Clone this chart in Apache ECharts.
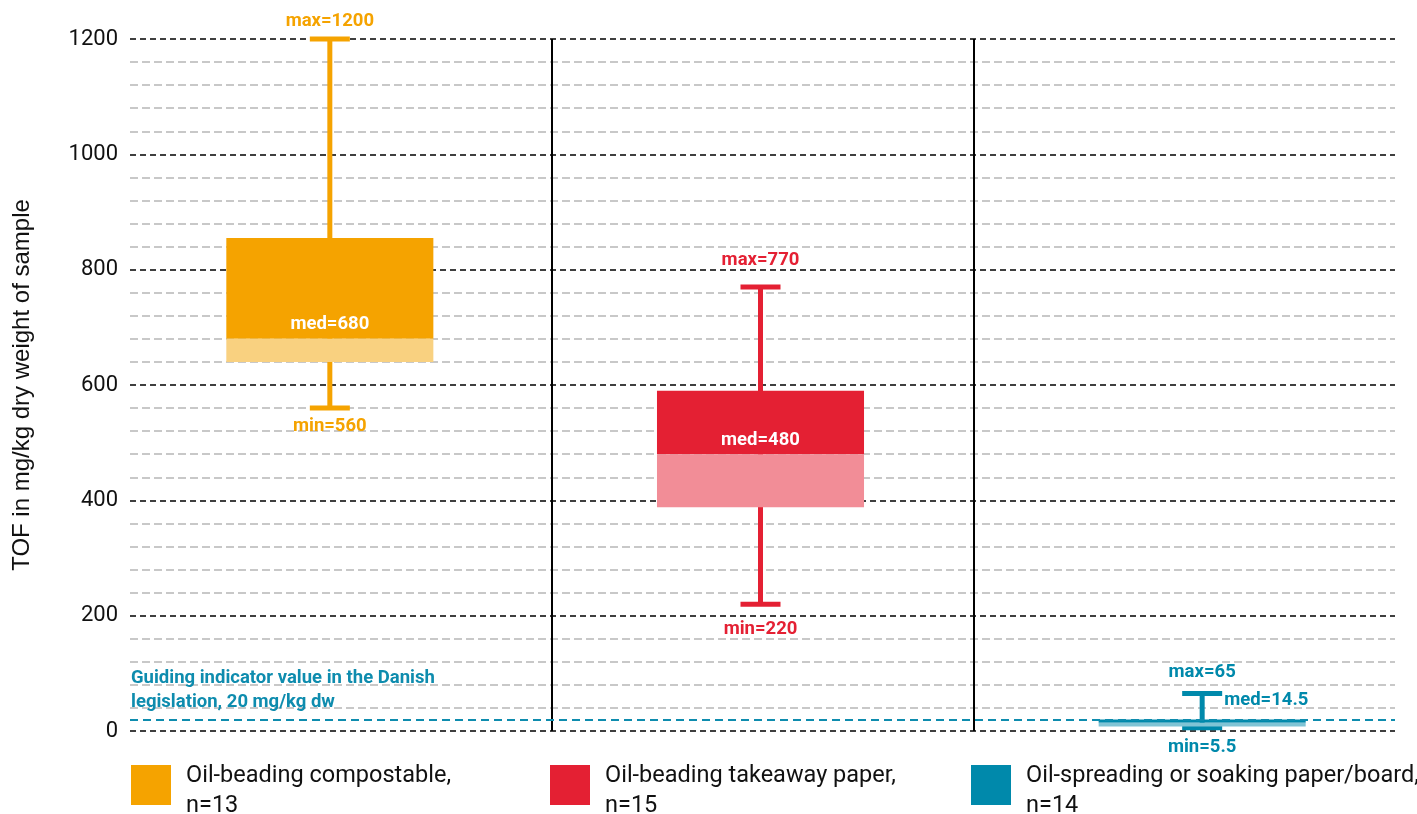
<!DOCTYPE html>
<html><head><meta charset="utf-8">
<script src="https://cdn.jsdelivr.net/npm/echarts@6/dist/echarts.min.js"></script>
<style>html,body{margin:0;padding:0;background:#fff}#c{width:1417px;height:814px}</style>
</head><body><div id="c"></div>
<script>
// ---- data ----
const categories = ['Oil-beading compostable', 'Oil-beading takeaway paper', 'Oil-spreading or soaking paper/board'];
const seriesNames = ['Oil-beading compostable,\nn=13', 'Oil-beading takeaway paper,\nn=15', 'Oil-spreading or soaking paper/board,\nn=14'];
const minValues = [560, 220, 5.5];
const q1Values = [640, 388, 8];
const medianValues = [680, 480, 14.5];
const q3Values = [855, 590, 20];
const maxValues = [1200, 770, 65];
const guideValue = 20;
const guideLabel = 'Guiding indicator value in the Danish\nlegislation, 20 mg/kg dw';
const yAxisName = 'TOF in mg/kg dry weight of sample';

// ---- styles ----
const darkColors = ['#F5A300', '#E42033', '#0089AB'];
const lightColors = ['#F9D180', '#F28D97', '#80C4D5'];
const medLabelInside = [true, true, false];
const boxNudgePx = [-11, -2, 18];
const maxLabelGapPx = [18, 27, 21];
const minLabelGapPx = [18, 25, 20];
const legendLefts = [131, 550, 971];
const teal = '#0E8CAE';
const FONT = 'Roboto, "Noto Sans", sans-serif';
const LBL_FONT = 'bold 18.5px ' + FONT;

function makeRender(i) {
  return function (params, api) {
    const xi = api.value(0);
    const pMin = api.coord([xi, api.value(1)]);
    const pQ1 = api.coord([xi, api.value(2)]);
    const pMed = api.coord([xi, api.value(3)]);
    const pQ3 = api.coord([xi, api.value(4)]);
    const pMax = api.coord([xi, api.value(5)]);
    const band = api.size([1, 0])[0];
    const bw = band * 0.491;
    const cx = pMed[0] + boxNudgePx[i];
    const cap = 20;
    const dark = darkColors[i], light = lightColors[i];
    const lbl = (text, x, y, color, align) => ({
      type: 'text', z2: 10,
      style: { text, x, y, fill: color, font: LBL_FONT, align: align || 'center', verticalAlign: 'middle' }
    });
    const children = [
      { type: 'line', shape: { x1: cx, y1: pMin[1], x2: cx, y2: pMax[1] }, style: { stroke: dark, lineWidth: 5 } },
      { type: 'line', shape: { x1: cx - cap, y1: pMin[1], x2: cx + cap, y2: pMin[1] }, style: { stroke: dark, lineWidth: 5 } },
      { type: 'line', shape: { x1: cx - cap, y1: pMax[1], x2: cx + cap, y2: pMax[1] }, style: { stroke: dark, lineWidth: 5 } },
      { type: 'rect', shape: { x: cx - bw / 2, y: pQ3[1], width: bw, height: pMed[1] - pQ3[1] }, style: { fill: dark } },
      { type: 'rect', shape: { x: cx - bw / 2, y: pMed[1], width: bw, height: pQ1[1] - pMed[1] }, style: { fill: light } },
      lbl('max=' + api.value(5), cx, pMax[1] - maxLabelGapPx[i], dark),
      lbl('min=' + api.value(1), cx, pMin[1] + minLabelGapPx[i], dark)
    ];
    if (medLabelInside[i]) {
      children.push(lbl('med=' + api.value(3), cx, pMed[1] - 14, '#fff'));
    } else {
      children.push(lbl('med=' + api.value(3), cx + cap + 2, pMax[1] + 7, dark, 'left'));
    }
    return { type: 'group', children };
  };
}

const series = seriesNames.map((name, i) => {
  const s = {
    type: 'custom',
    name,
    renderItem: makeRender(i),
    encode: { x: 0, y: [1, 2, 3, 4, 5] },
    itemStyle: { color: darkColors[i] },
    data: [[i, minValues[i], q1Values[i], medianValues[i], q3Values[i], maxValues[i]]],
    z: 3
  };
  if (i === 2) {
    s.markLine = {
      silent: true, symbol: 'none', z: 5,
      lineStyle: { color: teal, type: [8, 5], width: 2 },
      label: {
        show: true, position: 'insideStartTop', formatter: guideLabel, color: teal,
        fontWeight: 'bold', fontSize: 18.5, lineHeight: 24, fontFamily: FONT, distance: [1, 5]
      },
      data: [{ yAxis: guideValue }]
    };
  }
  return s;
});

const legendText = { fontSize: 23.5, color: '#111', lineHeight: 30, fontFamily: FONT };
const chart = echarts.init(document.getElementById('c'), null, { renderer: 'canvas' });
chart.setOption({
  animation: false,
  color: darkColors,
  grid: { left: 130, right: 22, top: 39, bottom: 83, containLabel: false },
  legend: seriesNames.map((n, i) => ({
    data: [n], left: legendLefts[i], top: 749, padding: 0, icon: 'rect', itemWidth: 40, itemHeight: 40,
    selectedMode: false,
    formatter: name => '{s| }\n' + name.split('\n').map(line => '{t|' + line + '}').join('\n'),
    textStyle: Object.assign({}, legendText, {
      rich: {
        s: { fontSize: 1, lineHeight: 12 },
        t: Object.assign({}, legendText, { padding: [0, 0, 0, 10] })
      }
    })
  })),
  xAxis: {
    type: 'category', data: categories,
    axisLine: { show: false }, axisTick: { show: false }, axisLabel: { show: false },
    splitLine: { show: true, showMinLine: false, showMaxLine: false, lineStyle: { color: '#000', width: 2, type: 'solid' } }
  },
  yAxis: {
    type: 'value', min: 0, max: 1200, interval: 200,
    name: yAxisName, nameLocation: 'middle', nameGap: 96,
    nameTextStyle: { fontSize: 24, color: '#111', fontFamily: '"Liberation Sans", Arial, sans-serif' },
    axisLine: { show: false }, axisTick: { show: false },
    axisLabel: { fontSize: 22, color: '#111', margin: 12, fontFamily: FONT, formatter: v => String(v) },
    splitLine: { show: true, lineStyle: { color: '#000', type: [6, 4], width: 1.5 } },
    minorTick: { show: false, splitNumber: 5 },
    minorSplitLine: { show: true, lineStyle: { color: '#c8c8c8', type: [8, 4], width: 2 } }
  },
  series
});
</script></body></html>
